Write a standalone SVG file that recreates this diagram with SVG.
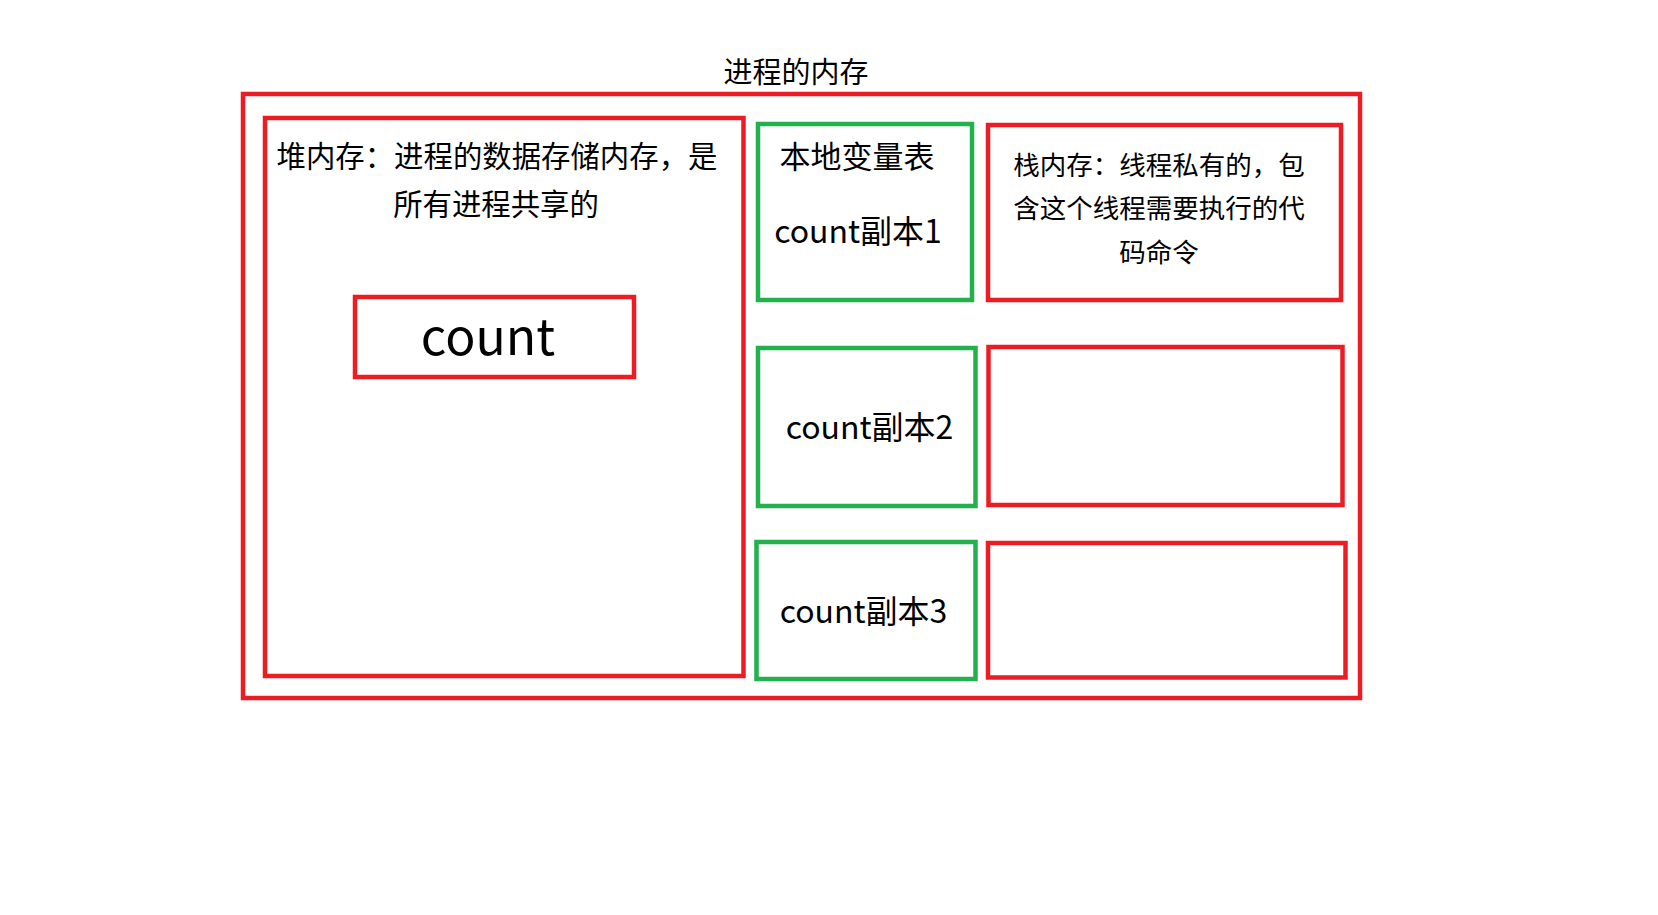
<svg xmlns="http://www.w3.org/2000/svg" width="1658" height="915" viewBox="0 0 1658 915">
<style>
.red{fill:none;stroke:#ED1C24;stroke-width:4.5}
.green{fill:none;stroke:#22B14C;stroke-width:4.5}
text{font-family:"Noto Sans CJK SC","Microsoft YaHei",sans-serif;fill:#000;text-anchor:middle}
</style>
<rect width="1658" height="915" fill="#fff"/>
<g id="title"><text x="796" y="83" font-size="29">进程的内存</text></g>
<g id="process"><rect class="red" x="243" y="94" width="1117" height="604"/></g>
<g id="heap">
<rect class="red" x="265" y="118" width="478.5" height="558"/>
<text x="497" y="167" font-size="29.4">堆内存：进程的数据存储内存，是</text>
<text x="496" y="215" font-size="29.4">所有进程共享的</text>
</g>
<g id="count">
<rect class="red" x="355" y="297" width="279" height="80"/>
<text x="488" y="355" font-size="50">count</text>
</g>
<g id="local1">
<rect class="green" x="758" y="124" width="214" height="176"/>
<text x="857" y="168" font-size="31">本地变量表</text>
<text x="858" y="243" font-size="32">count副本1</text>
</g>
<g id="stack1">
<rect class="red" x="988" y="125" width="353" height="175"/>
<text x="1159" y="175" font-size="26.5">栈内存：线程私有的，包</text>
<text x="1159" y="218" font-size="26.5">含这个线程需要执行的代</text>
<text x="1159" y="262" font-size="26.5">码命令</text>
</g>
<g id="local2">
<rect class="green" x="758" y="348" width="217.5" height="158"/>
<text x="869.5" y="439" font-size="32">count副本2</text>
</g>
<g id="stack2"><rect class="red" x="988.5" y="347" width="354" height="158"/></g>
<g id="local3">
<rect class="green" x="756.5" y="542" width="219" height="137"/>
<text x="863.5" y="623" font-size="32">count副本3</text>
</g>
<g id="stack3"><rect class="red" x="988" y="543" width="357.5" height="134.5"/></g>
<g id="connectors"></g>
</svg>
